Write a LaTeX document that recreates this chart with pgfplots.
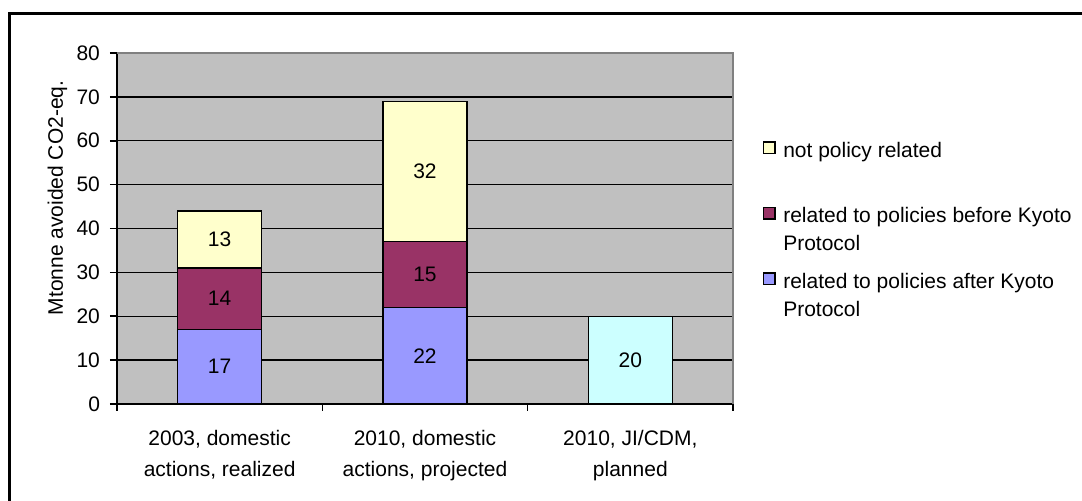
\documentclass[border=0pt]{standalone}
\usepackage{fontspec}
\setmainfont{Liberation Sans}
\usepackage{pgfplots}
\usepackage{pgfplotstable}
\pgfplotsset{compat=1.18}
\pgfplotsset{/pgf/number format/assume math mode=true}

\definecolor{plotgray}{HTML}{C0C0C0}
\definecolor{bordergray}{HTML}{808080}
\definecolor{afterblue}{HTML}{9999FF}
\definecolor{beforeplum}{HTML}{993366}
\definecolor{notpolyellow}{HTML}{FFFFCC}
\definecolor{jicyan}{HTML}{CCFFFF}

% Avoided emissions (Mtonne CO2-eq.) per bar and contribution
\pgfplotstableread{
x after before notpol jicdm
0 17 14 13 0
1 22 15 32 0
2 0  0  0  20
}\avoided

% two-line legend text, aligned on its first line
\newcommand{\keytext}[2]{\begin{tabular}[t]{@{}l@{}}#1\\#2\end{tabular}}

\pgfplotsset{
  keysquare/.style={legend image code/.code={%
      \draw[##1, line width=0.6pt] (0pt,2pt) rectangle (5.7pt,7.7pt);}},
  common frame/.style={
    at={(58.5pt,48.5pt)}, anchor=south west,
    scale only axis, width=308pt, height=175.5pt,
    xmin=-0.5, xmax=2.5, ymin=0, ymax=80,
  },
}

\begin{document}
\begin{tikzpicture}[x=0.5pt, y=0.5pt, font=\fontsize{10.5}{13.5}\selectfont]
\clip (0,0) rectangle (1082,501);

% outer chart frame
\draw[line width=1.1pt] (9.5,-20) -- (9.5,487.5) -- (1100,487.5);

\begin{axis}[
  common frame,
  ybar stacked, bar width=42pt,
  axis background/.style={fill=plotgray},
  axis line style={black, line width=1pt},
  tick pos=left, tick align=outside, major tick length=3.5pt,
  tick style={black, line width=0.8pt},
  ytick={0,10,...,80},
  ymajorgrids, major grid style={black, line width=0.65pt},
  yticklabel style={xshift=-1.5pt},
  xtick={-0.5,0.5,1.5,2.5},
  xticklabels={,,,},
  extra x ticks={0,1,2},
  extra x tick labels={{2003, domestic\\actions, realized},
                       {2010, domestic\\actions, projected},
                       {2010, JI/CDM,\\planned}},
  extra x tick style={major tick length=0pt},
  xticklabel style={align=center, yshift=-9.5pt,
    font=\fontsize{10.5}{15.5}\selectfont},
  ylabel={Mtonne avoided CO2-eq.},
  ylabel style={at={(axis description cs:-0.0966,0.587)}, anchor=center},
  reverse legend,
  legend style={draw=none, fill=none, inner sep=0pt,
    at={(rel axis cs:1.0482,0.7595)}, anchor=north west,
    cells={anchor=base west}, row sep=4.75pt, column sep=3.8pt,
    font=\fontsize{10.5}{14}\selectfont,
    nodes={inner sep=0pt, text depth=}},
  after end axis/.code={
    \draw[bordergray, line width=1.2pt]
      (rel axis cs:0,1) -- (rel axis cs:1,1) -- (rel axis cs:1,0);
  },
]
\addplot[fill=afterblue, draw=black, line width=0.7pt, keysquare]
  table[x=x, y=after] {\avoided};
\addlegendentry{\keytext{related to policies after Kyoto}{Protocol}}
\addplot[fill=beforeplum, draw=black, line width=0.7pt, keysquare]
  table[x=x, y=before] {\avoided};
\addlegendentry{\keytext{related to policies before Kyoto}{Protocol}}
\addplot[fill=notpolyellow, draw=black, line width=0.7pt, keysquare]
  table[x=x, y=notpol] {\avoided};
\addlegendentry{\keytext{not policy related}{\strut}}
\addplot[fill=jicyan, draw=black, line width=0.7pt, forget plot]
  table[x=x, y=jicdm] {\avoided};
\end{axis}

% value labels, centred in each bar segment
\begin{axis}[
  common frame, hide axis,
  nodes near coords,
  every node near coord/.append style={anchor=center, black,
    font=\fontsize{10.5}{13}\selectfont},
]
\addplot[draw=none, point meta=explicit, skip coords between index={2}{3}]
  table[x=x, y expr=\thisrow{after}/2, meta=after] {\avoided};
\addplot[draw=none, point meta=explicit, skip coords between index={2}{3}]
  table[x=x, y expr=\thisrow{after}+\thisrow{before}/2, meta=before] {\avoided};
\addplot[draw=none, point meta=explicit, skip coords between index={2}{3}]
  table[x=x, y expr=\thisrow{after}+\thisrow{before}+\thisrow{notpol}/2, meta=notpol] {\avoided};
\addplot[draw=none, point meta=explicit, skip coords between index={0}{2}]
  table[x=x, y expr=\thisrow{jicdm}/2, meta=jicdm] {\avoided};
\end{axis}
\end{tikzpicture}
\end{document}
